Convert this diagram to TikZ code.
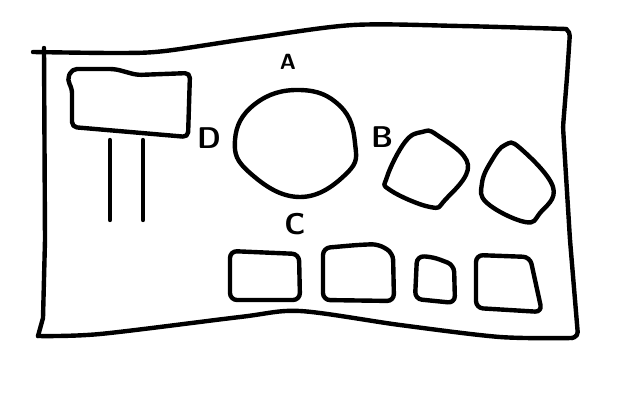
\documentclass[tikz,border=0pt]{standalone}
\usetikzlibrary{positioning}

\begin{document}
\begin{tikzpicture}[
  x=1pt, y=-1pt,
  sketch/.style={draw=black, line width=4.4pt, line cap=round, line join=round},
  boxpart/.style={sketch, rounded corners=7pt},
  letter/.style={font=\fontsize{30}{30}\selectfont\sffamily\bfseries, inner sep=0pt}
]
\useasboundingbox (0,0) rectangle (624,400);

% Okvir
\draw[sketch] plot[smooth, tension=0.5] coordinates
  {(33,52) (120,53) (165,51) (253,38) (353,25) (460,26) (566,29)};
\draw[sketch, rounded corners=4pt]
  (566,29) -- (570,32) -- (567,77) -- (563,127) -- (570,240) -- (578,336) -- (572,338);
\draw[sketch] plot[smooth, tension=0.5] coordinates
  {(572,338) (500,337) (400,325) (300,311) (240,317) (100,334) (38,336)};
\draw[sketch] (38,336) -- (43,318) -- (45,240) -- (44,48);

% Tabla
\draw[boxpart, rounded corners=5pt]
  (72,69) -- (115,69) -- (137,75) -- (190,73) -- (188,137)
  -- (130,132) -- (72,127) -- (72,88) -- (67,80) -- cycle;
\draw[sketch] (110,140) -- (110,220);
\draw[sketch] (143,140) -- (143,220);

% Krog z oznakami
\draw[sketch] plot[smooth cycle, tension=0.75] coordinates
  {(300,90) (340,106) (355,143) (347,173) (300,197) (250,173) (235,140) (255,104)};
\node[letter, font=\fontsize{22}{22}\selectfont\sffamily\bfseries] (labA) at (288,62) {A};
\node[letter] (labD) at (209,138) {D};
\node[letter] (labB) at (382,137) {B};
\node[letter] (labC) at (295,224) {C};

% Desni obliki
\draw[sketch] plot[smooth cycle, tension=0.7] coordinates
  {(422,132) (437,135) (468,165) (445,200) (430,207) (390,190) (387,177) (405,142)};
\draw[sketch] plot[smooth cycle, tension=0.7] coordinates
  {(505,145) (520,148) (553,187) (540,213) (525,222) (487,203) (482,183) (492,160)};

% Spodnji bloki
\draw[boxpart] (230,251) -- (299,254) -- (300,300) -- (230,300) -- cycle;
\draw[boxpart] (323,248) -- (357,245) -- (378,244) -- (393,253) -- (394,301) -- (323,300) -- cycle;
\draw[boxpart] (417,256) -- (433,257) -- (454,265) -- (455,303) -- (415,299) -- cycle;
\draw[boxpart] (476,255) -- (530,257) -- (542,312) -- (476,308) -- cycle;

\end{tikzpicture}
\end{document}
